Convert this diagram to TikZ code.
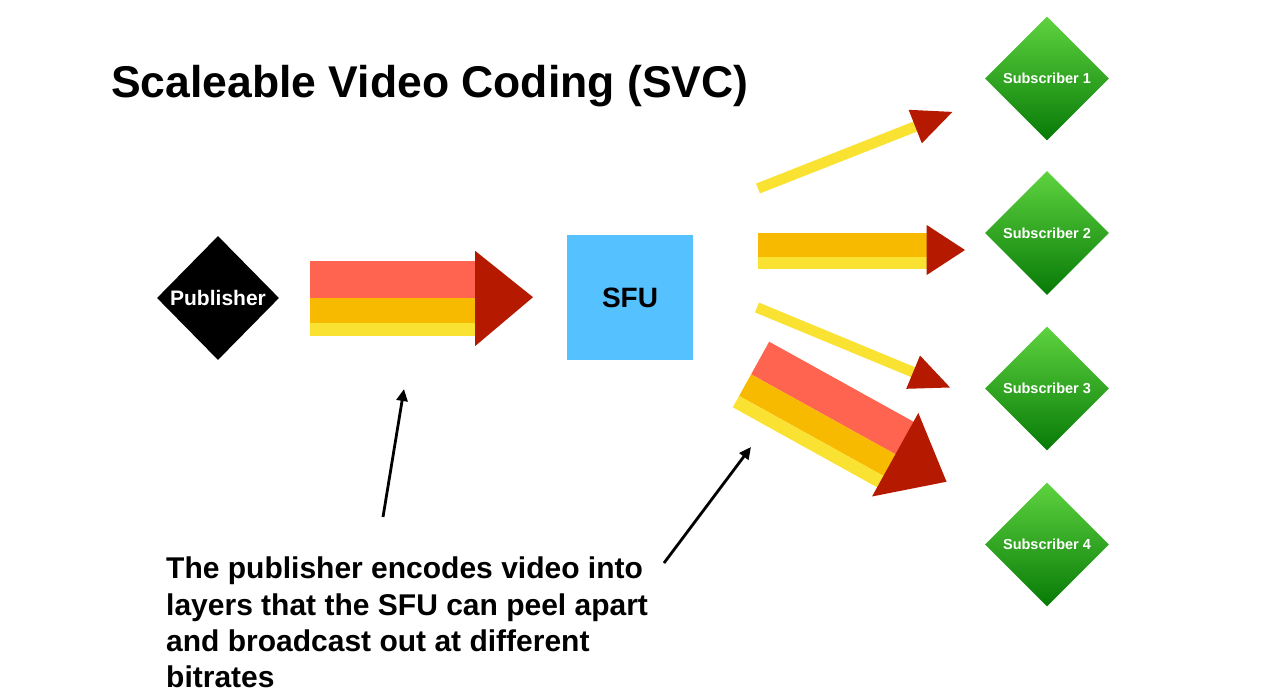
\documentclass[tikz,border=0pt]{standalone}
\usepackage{fontspec}
\setmainfont{Liberation Sans}
\usetikzlibrary{shapes.geometric,arrows.meta}
\definecolor{layerred}{HTML}{FF6450}
\definecolor{layerorange}{HTML}{F8BA00}
\definecolor{layeryellow}{HTML}{FAE232}
\definecolor{headred}{HTML}{B51A00}
\definecolor{sfublue}{HTML}{56C1FF}
\definecolor{subtop}{HTML}{5ED33F}
\definecolor{subbot}{HTML}{077A07}
\begin{document}
\begin{tikzpicture}[x=1pt,y=-1pt,
  subnode/.style={diamond, minimum width=124pt, minimum height=124pt, inner sep=0pt,
    top color=subtop, bottom color=subbot, draw=none, text=white,
    font=\bfseries\fontsize{14.5}{17}\selectfont},
  pubnode/.style={diamond, minimum width=122pt, minimum height=124pt, inner sep=0pt,
    fill=black, text=white, font=\bfseries\fontsize{21}{24}\selectfont},
  sfunode/.style={rectangle, minimum width=126pt, minimum height=125pt, inner sep=0pt,
    fill=sfublue, text=black, font=\bfseries\fontsize{28}{32}\selectfont},
  calloutarrow/.style={draw=black, line width=2.8pt, -{Triangle[length=12pt,width=11pt]}},
  bigarrow/.pic={
    \fill[layerred] (0,-37.5) rectangle (166,-0.2);
    \fill[layerorange] (0,-0.2) rectangle (166,24.5);
    \fill[layeryellow] (0,24.5) rectangle (166,37.5);
    \fill[headred] (165,-47.5) -- (223,-1) -- (165,48) -- cycle;
  },
  midarrow/.pic={
    \fill[layerorange] (0,-18.3) rectangle (170,5.7);
    \fill[layeryellow] (0,5.7) rectangle (170,18);
    \fill[headred] (169,-26) -- (207.3,-1) -- (169,24) -- cycle;
  },
  thinarrow/.pic={
    \fill[layeryellow] (0,-5.3) rectangle (171,5.3);
    \fill[headred] (169,-18) -- (209,0) -- (169,18) -- cycle;
  }
]
\useasboundingbox (0,0) rectangle (1270,696);
\fill[white] (0,0) rectangle (1270,696);

% title
\node[anchor=base west, inner sep=0pt, font=\bfseries\fontsize{44.5}{53}\selectfont] (title) at (111,97) {Scaleable Video Coding (SVC)};

% nodes
\node[pubnode] (pub) at (218,298) {Publisher};
\node[sfunode] (sfu) at (630,297.5) {SFU};
\node[subnode] (sub1) at (1047,78.5) {Subscriber 1};
\node[subnode] (sub2) at (1047,233) {Subscriber 2};
\node[subnode] (sub3) at (1047,388.5) {Subscriber 3};
\node[subnode] (sub4) at (1047,544.5) {Subscriber 4};

% layered arrows
\pic at (310,298.2) {bigarrow};
\pic at (757.7,251) {midarrow};
\pic[rotate=21.5] at (758,188.5) {thinarrow};
\pic[rotate=-22.5] at (757,307.5) {thinarrow};
\pic[rotate=-29] at (751,374.5) {bigarrow};

% note
\node[anchor=north west, inner sep=0pt, align=left, font=\bfseries\fontsize{30}{36.3}\selectfont] (note) at (166,557)
  {The publisher encodes video into\\layers that the SFU can peel apart\\and broadcast out at different\\bitrates};

\coordinate (c1from) at (383,517);
\coordinate (c1to) at (404,389);
\coordinate (c2from) at (664,563);
\coordinate (c2to) at (751,447);
\draw[calloutarrow] (c1from) -- (c1to);
\draw[calloutarrow] (c2from) -- (c2to);
\end{tikzpicture}
\end{document}
